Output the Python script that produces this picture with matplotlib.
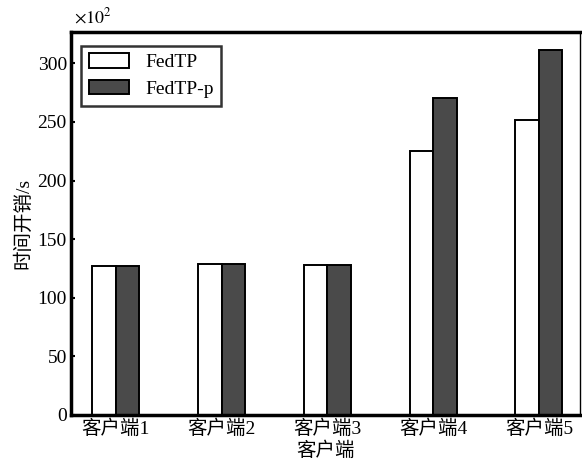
import numpy as np
import matplotlib
matplotlib.use("Agg")
import matplotlib.pyplot as plt

plt.rcParams['font.family'] = ['Liberation Serif', 'Noto Sans CJK SC']
plt.rcParams['mathtext.fontset'] = 'stix'

# values in units of 10^2 s
clients = ['客户端1', '客户端2', '客户端3', '客户端4', '客户端5']
fedtp = [127.4, 128.5, 128.2, 225.5, 251.8]
fedtp_p = [127.4, 129.0, 128.2, 270.5, 311.0]

x = np.arange(1, len(clients) + 1)
w = 0.222

fig = plt.figure(figsize=(5.82, 4.61), dpi=100)
ax = fig.add_axes([0.122, 0.0998, 0.8746, 0.8308])

ax.bar(x - w / 2, fedtp, w, color='white', edgecolor='black', linewidth=1.4, label='FedTP')
ax.bar(x + w / 2, fedtp_p, w, color='#4a4a4a', edgecolor='black', linewidth=1.4, label='FedTP-p')

ax.set_xlim(0.577, 5.388)
ax.set_ylim(0, 326.7)
ax.set_yticks([0, 50, 100, 150, 200, 250, 300])
ax.set_xticks(x)
ax.set_xticklabels(clients)
ax.tick_params(axis='y', direction='in', length=3, width=1.5, labelsize=14, pad=3)
ax.tick_params(axis='x', length=0, labelsize=14, pad=3.5)

for s in ['left', 'bottom', 'top']:
    ax.spines[s].set_linewidth(2.5)
ax.spines['right'].set_linewidth(1.0)

ax.set_xlabel('客户端', fontsize=14, va='center')
ax.xaxis.set_label_coords(0.5, -0.092)
ax.set_ylabel('时间开销/s', fontsize=14, labelpad=4)
ax.text(0.005, 1.012, r'$\times 10^2$', transform=ax.transAxes, fontsize=13, ha='left', va='bottom')

leg = ax.legend(loc='upper left', fontsize=14, frameon=True, fancybox=False,
                edgecolor='black', handlelength=2.1, handleheight=0.75,
                borderpad=0.4, labelspacing=0.45, handletextpad=0.8,
                bbox_to_anchor=(0.0, 0.99))
leg.get_frame().set_linewidth(1.8)

fig.savefig('out.png', dpi=100)
